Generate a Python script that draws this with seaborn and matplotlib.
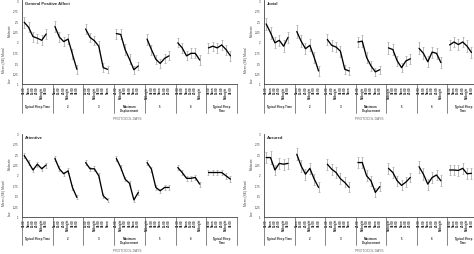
import numpy as np
import pandas as pd
import matplotlib
matplotlib.use("Agg")
import matplotlib.pyplot as plt
import matplotlib.transforms as mtransforms
import seaborn as sns

# ---------------- data ----------------
group_labels = ["Typical Sleep Time", "2", "3", "Maximum\nDisplacement", "5", "6", "Typical Sleep\nTime"]
time_labels = [
    ["08:00", "Noon", "16:00", "20:00", "Midnight", "04:00"],
    ["Noon", "16:00", "20:00", "Midnight", "04:00", "08:00"],
    ["16:00", "20:00", "Midnight", "04:00", "08:00", "Noon"],
    ["20:00", "Midnight", "04:00", "08:00", "Noon", "16:00"],
    ["Midnight", "04:00", "08:00", "Noon", "16:00", "20:00"],
    ["04:00", "08:00", "Noon", "16:00", "20:00", "Midnight"],
    ["08:00", "Noon", "16:00", "20:00", "Midnight", "04:00"],
]
panel_titles = ["General Positive Affect", "Jovial", "Attentive", "Assured"]

gpa_mean = [2.47, 2.35, 2.13, 2.09, 2.04, 2.19,
            2.37, 2.12, 2.01, 2.07, 1.71, 1.35,
            2.31, 2.11, 2.03, 1.90, 1.39, 1.35,
            2.20, 2.18, 1.82, 1.59, 1.34, 1.43,
            2.07, 1.82, 1.59, 1.49, 1.61, 1.67,
            1.98, 1.86, 1.67, 1.73, 1.73, 1.57,
            1.86, 1.90, 1.86, 1.93, 1.82, 1.67]
gpa_se = [0.13, 0.12, 0.12, 0.11, 0.12, 0.11,
          0.14, 0.12, 0.11, 0.12, 0.12, 0.10,
          0.12, 0.11, 0.11, 0.12, 0.10, 0.09,
          0.12, 0.12, 0.13, 0.12, 0.10, 0.09,
          0.13, 0.12, 0.11, 0.10, 0.11, 0.11,
          0.11, 0.12, 0.11, 0.12, 0.12, 0.11,
          0.11, 0.11, 0.12, 0.11, 0.12, 0.12]

jovial_mean = [2.43, 2.22, 1.98, 2.04, 1.90, 2.11,
               2.25, 2.02, 1.84, 1.92, 1.63, 1.31,
               2.06, 1.92, 1.88, 1.78, 1.35, 1.31,
               2.00, 2.02, 1.63, 1.43, 1.29, 1.34,
               1.86, 1.82, 1.55, 1.39, 1.55, 1.60,
               1.85, 1.73, 1.53, 1.76, 1.73, 1.51,
               1.93, 2.00, 1.94, 2.00, 1.90, 1.75]
jovial_se = [0.15, 0.14, 0.13, 0.13, 0.14, 0.13,
             0.16, 0.14, 0.13, 0.14, 0.13, 0.11,
             0.13, 0.13, 0.12, 0.13, 0.11, 0.10,
             0.13, 0.14, 0.14, 0.12, 0.10, 0.10,
             0.14, 0.13, 0.12, 0.11, 0.12, 0.12,
             0.14, 0.14, 0.13, 0.13, 0.13, 0.13,
             0.12, 0.13, 0.13, 0.13, 0.14, 0.14]

attentive_mean = [2.47, 2.30, 2.12, 2.26, 2.15, 2.24,
                  2.40, 2.15, 2.03, 2.10, 1.70, 1.46,
                  2.30, 2.15, 2.15, 1.98, 1.50, 1.40,
                  2.40, 2.18, 1.90, 1.80, 1.40, 1.58,
                  2.30, 2.14, 1.70, 1.62, 1.70, 1.70,
                  2.18, 2.06, 1.92, 1.92, 1.94, 1.78,
                  2.06, 2.06, 2.06, 2.06, 1.98, 1.90]
attentive_se = [0.06, 0.06, 0.05, 0.06, 0.05, 0.06,
                0.06, 0.06, 0.05, 0.06, 0.05, 0.05,
                0.06, 0.05, 0.06, 0.06, 0.05, 0.05,
                0.06, 0.06, 0.05, 0.06, 0.05, 0.05,
                0.06, 0.06, 0.05, 0.05, 0.06, 0.06,
                0.06, 0.06, 0.06, 0.06, 0.06, 0.06,
                0.07, 0.07, 0.07, 0.07, 0.07, 0.07]

assured_mean = [2.42, 2.42, 2.12, 2.28, 2.26, 2.28,
                2.50, 2.22, 2.02, 2.16, 1.90, 1.70,
                2.26, 2.14, 2.06, 1.91, 1.82, 1.70,
                2.30, 2.30, 1.98, 1.86, 1.58, 1.72,
                2.16, 2.06, 1.86, 1.75, 1.83, 1.94,
                2.20, 2.02, 1.78, 1.94, 2.00, 1.86,
                2.12, 2.12, 2.11, 2.16, 2.03, 2.04]
assured_se = [0.14, 0.15, 0.13, 0.14, 0.13, 0.13,
              0.15, 0.14, 0.13, 0.14, 0.13, 0.12,
              0.13, 0.13, 0.13, 0.13, 0.12, 0.12,
              0.13, 0.13, 0.13, 0.12, 0.11, 0.11,
              0.13, 0.13, 0.12, 0.12, 0.12, 0.12,
              0.14, 0.14, 0.13, 0.13, 0.13, 0.13,
              0.13, 0.13, 0.13, 0.13, 0.13, 0.13]

y_ticks = [1, 1.25, 1.5, 1.75, 2, 2.25, 2.5, 2.75, 3]
y_tick_labels = ["1", "1.25", "1.5", "1.75", "2", "2.25", "2.5", "2.75", "3"]

panels = [(gpa_mean, gpa_se), (jovial_mean, jovial_se),
          (attentive_mean, attentive_se), (assured_mean, assured_se)]

# ---------------- style ----------------
sns.set_style("white")
plt.rcParams["font.family"] = ["Liberation Sans", "DejaVu Sans"]

W, H = 474, 255
fig = plt.figure(figsize=(W / 100, H / 100), dpi=100)

positions = [
    [22 / W, 1 - 85 / H, 215 / W, 84 / H],
    [264 / W, 1 - 85 / H, 214 / W, 84 / H],
    [22 / W, 1 - 217.5 / H, 215 / W, 83 / H],
    [264 / W, 1 - 217.5 / H, 214 / W, 83 / H],
]

n_groups = len(group_labels)
n_pts = 6
gw = 7  # group width in x units

for p, ((mean, se), title, pos) in enumerate(zip(panels, panel_titles, positions)):
    ax = fig.add_axes(pos)
    rows = []
    for g in range(n_groups):
        for j in range(n_pts):
            k = g * n_pts + j
            rows.append({"x": g * gw + j + 0.5, "mean": mean[k], "se": se[k], "group": g})
    df = pd.DataFrame(rows)

    ax.errorbar(df["x"], df["mean"], yerr=df["se"], fmt="none",
                ecolor="#a8a8a8", elinewidth=0.55, capsize=0.8, capthick=0.5, zorder=1)
    sns.lineplot(data=df, x="x", y="mean", units="group", estimator=None,
                 color="black", lw=0.95, ax=ax, zorder=3, legend=False)

    ax.set_xlim(0, n_groups * gw)
    ax.set_ylim(1, 3)
    ax.set_yticks(y_ticks)
    ax.set_yticklabels(y_tick_labels)
    ax.set_xticks(df["x"])
    ax.set_xticklabels([t for grp in time_labels for t in grp], rotation=90,
                       fontsize=2.1, fontweight="bold", va="top")
    ax.tick_params(axis="x", length=0, pad=1.2)
    ax.tick_params(axis="y", length=1.5, width=0.4, labelsize=2.1, pad=0.8, colors="#333333")
    ax.set_xlabel("")
    ax.set_ylabel("")
    for s in ["top", "right"]:
        ax.spines[s].set_visible(False)
    for s in ["left", "bottom"]:
        ax.spines[s].set_linewidth(0.6)
        ax.spines[s].set_color("#444444")

    # group separators
    trans = mtransforms.blended_transform_factory(ax.transData, ax.transAxes)
    for g in range(n_groups + 1):
        ax.plot([g * gw, g * gw], [0, -0.34], color="#555555", lw=0.5,
                transform=trans, clip_on=False)
    for g, lab in enumerate(group_labels):
        ax.text(g * gw + gw / 2, -0.235, lab, transform=trans, ha="center", va="top",
                fontsize=2.1, fontweight="bold", linespacing=1.1)

    ax.text(0.49, -0.40, "PROTOCOL DAYS", transform=ax.transAxes, ha="center",
            va="center", fontsize=2.4, color="#666666")
    ax.text(0.012, 0.985, title, transform=ax.transAxes, ha="left", va="top",
            fontsize=3.0, fontweight="bold")
    ax.text(-0.083, 0.29, "Mean (SE) Mood", transform=ax.transAxes, rotation=90,
            ha="center", va="center", fontsize=2.4, color="#444444")
    ax.text(-0.056, 0.65, "Moderate", transform=ax.transAxes, rotation=90,
            ha="center", va="center", fontsize=2.2, color="#444444")
    ax.text(-0.056, 0.05, "Low", transform=ax.transAxes, rotation=90,
            ha="center", va="center", fontsize=2.2, color="#444444")

fig.savefig("out.png", dpi=100)
